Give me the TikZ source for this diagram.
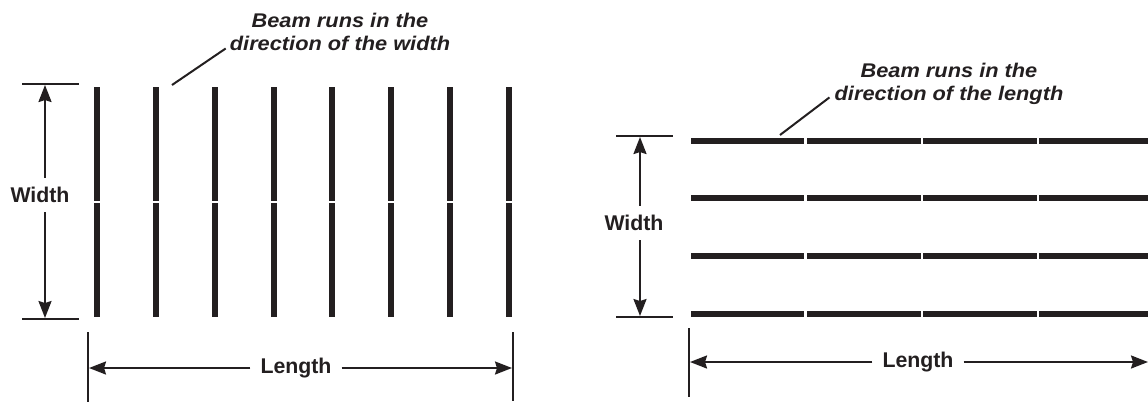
\documentclass[tikz,border=0pt]{standalone}
\usepackage{fontspec}
\setmainfont{Liberation Sans}
\newfontfamily\callfont{Liberation Sans}[FakeStretch=1.1]
\usetikzlibrary{arrows.meta,calc}
\definecolor{ink}{HTML}{231F20}
\begin{document}
\begin{tikzpicture}[x=1bp,y=-1bp,
  beam/.style={line width=6bp, draw=ink},
  tick/.style={line width=2.4bp, draw=ink},
  dimline/.style={line width=2.2bp, draw=ink, -{Stealth[length=17bp,width=13bp,inset=2bp]}},
  dimlabel/.style={font=\fontsize{21.3bp}{24bp}\selectfont\bfseries, text=ink, inner xsep=10bp, inner ysep=9bp},
  callout/.style={font=\callfont\fontsize{19.8bp}{23bp}\selectfont\bfseries\itshape, text=ink, align=center, inner sep=0pt},
  leader/.style={line width=2bp, draw=ink}]
\useasboundingbox (0,0) rectangle (1148,402);

% ---------- left panel: beams run in the direction of the width ----------
\foreach \i in {0,...,7}{
  \pgfmathsetmacro\bx{97+58.857*\i}
  \draw[beam] (\bx,87) -- (\bx,201);
  \draw[beam] (\bx,203) -- (\bx,317);
}
% width dimension
\draw[tick] (22,84) -- (79,84);
\draw[tick] (22,319) -- (79,319);
\coordinate (lwt) at (45,85);
\coordinate (lwb) at (45,318);
\node[dimlabel] (lw) at (40,195) {Width};
\draw[dimline] (lw.north -| lwt) -- (lwt);
\draw[dimline] (lw.south -| lwb) -- (lwb);
% length dimension
\draw[tick] (88,332) -- (88,402);
\draw[tick] (513,332) -- (513,401);
\coordinate (lll) at (89,368);
\coordinate (llr) at (512,368);
\node[dimlabel] (ll) at (296,368) {Length};
\draw[dimline] (ll.west) -- (lll);
\draw[dimline] (ll.east) -- (llr);
% callout
\node[callout] (co1) at (340,31.5) {Beam runs in the\\direction of the width};
\coordinate (lp1) at (172,85);
\draw[leader] (lp1) -- ($(co1.south west)+(-4,-2)$);

% ---------- right panel: beams run in the direction of the length ----------
\foreach \by in {141,198,256,314}{
  \draw[beam] (691,\by) -- (804,\by);
  \draw[beam] (807,\by) -- (921,\by);
  \draw[beam] (923,\by) -- (1037,\by);
  \draw[beam] (1039,\by) -- (1148,\by);
}
% width dimension
\draw[tick] (616,136) -- (673,136);
\draw[tick] (616,317) -- (673,317);
\coordinate (rwt) at (640,137);
\coordinate (rwb) at (640,316);
\node[dimlabel] (rw) at (634,223) {Width};
\draw[dimline] (rw.north -| rwt) -- (rwt);
\draw[dimline] (rw.south -| rwb) -- (rwb);
% length dimension
\draw[tick] (689,328) -- (689,397);
\coordinate (rll) at (690,362);
\coordinate (rlr) at (1148,362);
\node[dimlabel] (rl) at (918,362) {Length};
\draw[dimline] (rl.west) -- (rll);
\draw[dimline] (rl.east) -- (rlr);
% callout
\node[callout] (co2) at (949,83.5) {Beam runs in the\\direction of the length};
\coordinate (lp2) at (780,135);
\draw[leader] (lp2) -- ($(co2.south west)+(-5,-7)$);
\end{tikzpicture}
\end{document}
